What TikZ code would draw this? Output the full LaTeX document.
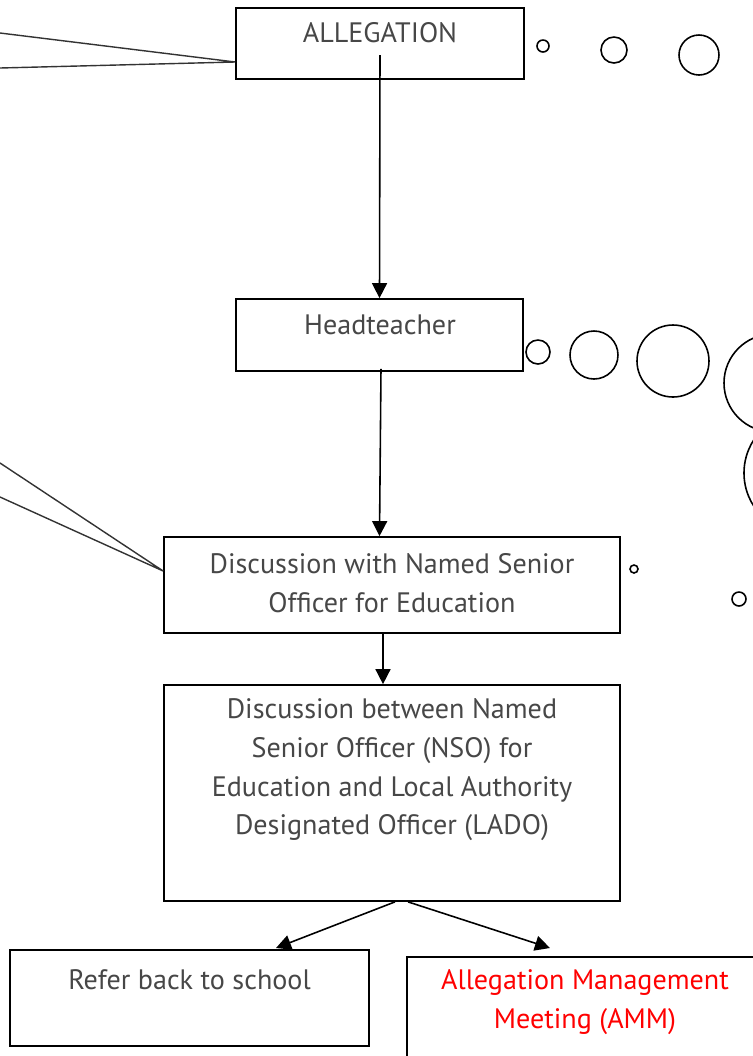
\documentclass[tikz,border=0pt]{standalone}
\usepackage{fontspec}
\setmainfont{PT Sans}
\usetikzlibrary{arrows.meta}
\definecolor{txtgray}{HTML}{474747}
\definecolor{linegray}{HTML}{333333}
\begin{document}
\begin{tikzpicture}[x=0.02cm, y=-0.02cm,
		box/.style={draw, line width=1pt, inner sep=0pt},
		txt/.style={text=txtgray, align=center, font=\fontsize{16}{22}\selectfont},
		arr/.style={line width=0.9pt, -{Triangle[length=0.3cm, width=0.3cm]}},
		bubble/.style={line width=0.9pt}]
		\useasboundingbox (0,0) rectangle (753,1056);
		\node[box, minimum width=5.76cm, minimum height=1.42cm] (alleg) at (380,43.5) {};
		\node[txt] (allegtxt) at (380,33) {ALLEGATION};
		\node[box, minimum width=5.74cm, minimum height=1.44cm] (head) at (379.5,335) {};
		\node[txt] (headtxt) at (380,325) {Headteacher};
		\node[box, minimum width=9.12cm, minimum height=1.92cm] (nso) at (392,585) {};
		\node[txt] (nsotxt) at (392,583) {Discussion with Named Senior\\Officer for Education};
		\node[box, minimum width=9.12cm, minimum height=4.32cm] (lado) at (392,793) {};
		\node[txt] (ladotxt) at (392,770) {Discussion between Named\\Senior Officer (NSO) for\\Education and Local Authority\\Designated Officer (LADO)};
		\node[box, minimum width=7.18cm, minimum height=1.92cm] (refer) at (189.5,998) {};
		\node[txt] (refertxt) at (189.5,980) {Refer back to school};
		\node[box, minimum width=7.06cm, minimum height=2.18cm] (amm) at (583.5,1011.5) {};
		\node[txt, text=red] (ammtxt) at (585,1002) {Allegation Management\\Meeting (AMM)};
		\coordinate (l1) at (0,33);
		\coordinate (l2) at (0,68);
		\coordinate (l3) at (0,463);
		\coordinate (l4) at (0,497);
		\draw [line width=0.8pt, linegray] (l1) -- ([yshift=-0.37cm]alleg.west) -- (l2);
		\draw [line width=0.8pt, linegray] (l3) -- ([yshift=0.28cm]nso.west) -- (l4);
		\draw [arr] ([yshift=-0.23cm]alleg.center) -- (head.north);
		\draw [arr] ([xshift=0.03cm, yshift=0.06cm]head.south) -- (head.center |- nso.north);
		\draw [arr] ([xshift=-0.18cm]nso.south) -- ([xshift=-0.18cm]lado.north);
		\draw [arr] ([xshift=0.06cm]lado.south) -- (276,948);
		\draw [arr] ([xshift=0.32cm]lado.south) -- (550,948);
		\draw [bubble] (543,46) circle (6);
		\draw [bubble] (614,50) circle (13);
		\draw [bubble] (699,55) circle (20);
		\draw [bubble] (538,352) circle (12);
		\draw [bubble] (594,355) circle (24);
		\draw [bubble] (673,361) circle (36);
		\draw [bubble] (773,383) circle (49);
		\draw [bubble] (805,473) circle (61);
		\draw [bubble] (634,569) circle (4);
		\draw [bubble] (739,599) circle (7);
\end{tikzpicture}
\end{document}
